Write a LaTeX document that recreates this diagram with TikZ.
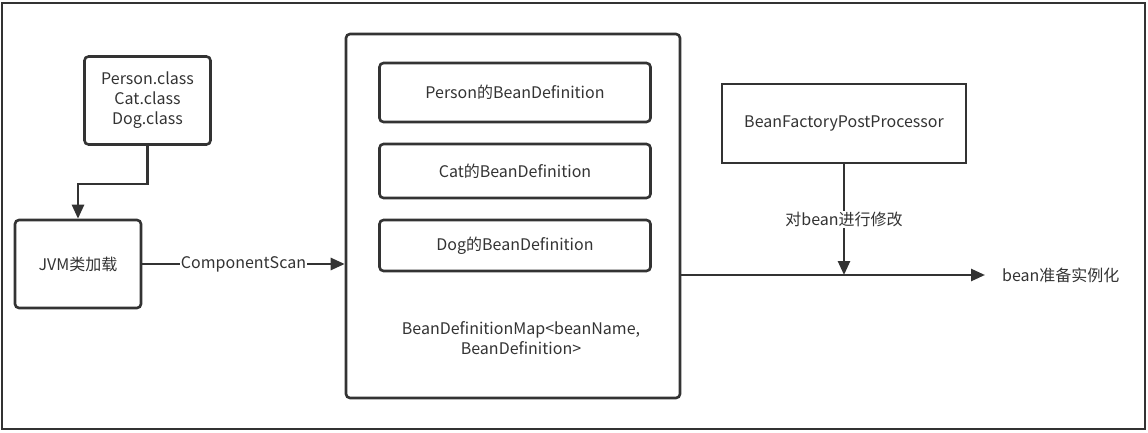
\documentclass[tikz,border=0pt]{standalone}
\usepackage{fontspec}
\setmainfont{Noto Sans CJK SC}
\usetikzlibrary{arrows.meta, positioning, calc}
\definecolor{ink}{HTML}{333333}

\begin{document}
\begin{tikzpicture}[x=1pt,y=-1pt,
        every node/.style={text=ink, font=\fontsize{16}{20}\selectfont},
        box/.style={draw=ink, line width=2.6pt, rectangle, rounded corners=4pt, align=center, inner sep=0pt},
        flow/.style={-{Triangle[length=14pt,width=12pt]}, draw=ink, line width=2.6pt},
        lbl/.style={fill=white, inner sep=1pt}]
        \useasboundingbox (0,0) rectangle (1148,433);
        \draw[ink, line width=2.6pt] (2,3) rectangle (1145,429);
        \node[box, minimum width=126pt, minimum height=88pt] (classes) at (147.5,100.5) {Person.class\\Cat.class\\Dog.class};
        \node[box, minimum width=126pt, minimum height=88pt] (jvm) at (78,264) {JVM类加载};
        \node[box, minimum width=334pt, minimum height=364pt] (map) at (513,216) {};
        \node[box, minimum width=271pt, minimum height=59pt] (person) at (515,92.5) {Person的BeanDefinition};
        \node[box, minimum width=271pt, minimum height=54pt] (cat) at (515,171) {Cat的BeanDefinition};
        \node[box, minimum width=271pt, minimum height=51pt] (dog) at (515,245.5) {Dog的BeanDefinition};
        \node[align=center, inner sep=0pt] (mapname) at (521,338) {BeanDefinitionMap<beanName,\\BeanDefinition>};
        \node[box, rounded corners=0pt, minimum width=244pt, minimum height=79pt] (bfpp) at (844,123.5) {BeanFactoryPostProcessor};
        \coordinate (ready) at (985,275);
        \node[right=17pt of ready, inner sep=0pt] (inst) {bean准备实例化};
        \draw[flow] (classes.south) -- ++(0,38) -| (jvm.north);
        \draw[flow] (jvm.east) -- node[midway, lbl]{ComponentScan} (jvm.east -| map.west);
        \draw[flow] (map.east |- ready) -- (ready);
        \draw[flow] (bfpp.south) -- node[midway, lbl]{对bean进行修改} (bfpp.south |- ready);
\end{tikzpicture}
\end{document}
